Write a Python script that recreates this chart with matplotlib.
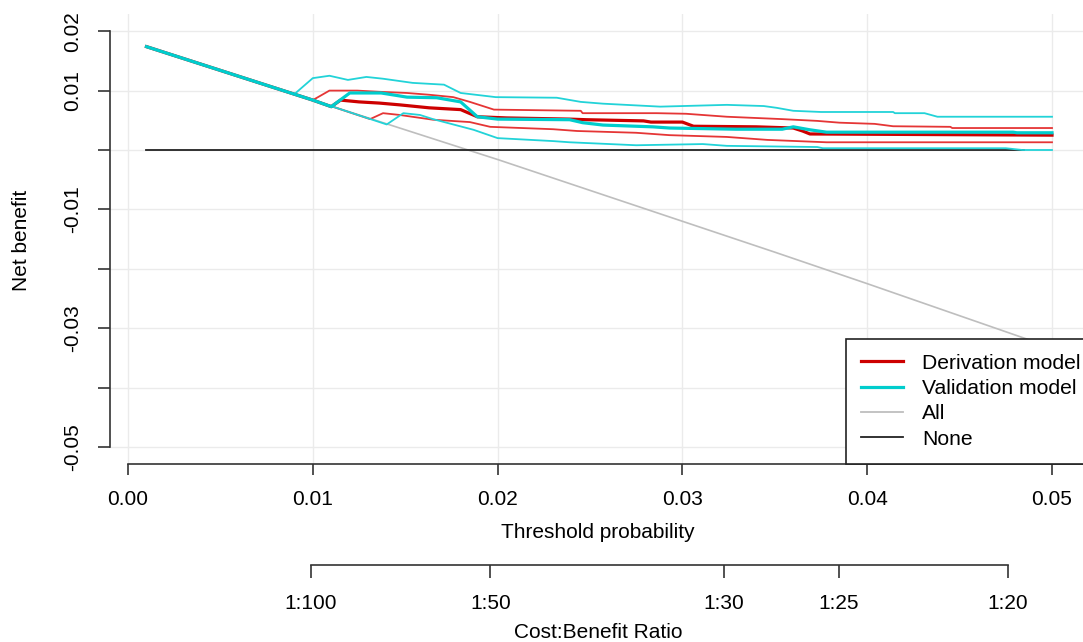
import matplotlib
matplotlib.use("Agg")
import matplotlib.pyplot as plt
from matplotlib.lines import Line2D

plt.rcParams['font.family'] = ['Liberation Sans', 'DejaVu Sans']

# ---------------- data ----------------
all_t = [0.001, 0.005, 0.010, 0.015, 0.020, 0.025, 0.030, 0.035, 0.040, 0.045, 0.050]
all_nb = [0.0174, 0.0134, 0.0084, 0.0034, -0.0016, -0.0068, -0.0120, -0.0172, -0.0225, -0.0279, -0.0333]

none_t = [0.001, 0.0485]
none_nb = [0.0, 0.0]

der_t = [0.001, 0.005, 0.010, 0.0110, 0.0115, 0.0125, 0.0136, 0.0147, 0.0163, 0.0180, 0.0189, 0.0205,
         0.0239, 0.0248, 0.0279, 0.0283, 0.0300, 0.0306, 0.0340, 0.0360, 0.0365, 0.0369, 0.0500]
der_nb = [0.0174, 0.0134, 0.0084, 0.0073, 0.0084, 0.0081, 0.0079, 0.0076, 0.0071, 0.0068, 0.0056, 0.0054,
          0.0052, 0.0051, 0.0049, 0.0047, 0.0047, 0.0040, 0.0039, 0.0037, 0.0032, 0.0027, 0.0025]

der_up_t = [0.001, 0.005, 0.010, 0.0109, 0.0124, 0.0136, 0.0151, 0.0163, 0.0176, 0.0185, 0.0198, 0.0245,
            0.0246, 0.0286, 0.0302, 0.0324, 0.0354, 0.0373, 0.0385, 0.0404, 0.0414, 0.0445, 0.0446, 0.0500]
der_up_nb = [0.0174, 0.0134, 0.0084, 0.0100, 0.0100, 0.0098, 0.0096, 0.0093, 0.0089, 0.0081, 0.0068, 0.0066,
             0.0062, 0.0062, 0.0061, 0.0056, 0.0052, 0.0049, 0.0046, 0.0044, 0.0040, 0.0039, 0.0037, 0.0037]

der_lo_t = [0.001, 0.005, 0.010, 0.0131, 0.0138, 0.0147, 0.0165, 0.0185, 0.0196, 0.0230, 0.0243, 0.0275,
            0.0293, 0.0324, 0.0346, 0.0378, 0.0500]
der_lo_nb = [0.0174, 0.0134, 0.0084, 0.0052, 0.0062, 0.0059, 0.0051, 0.0047, 0.0039, 0.0035, 0.0032, 0.0029,
             0.0025, 0.0022, 0.0017, 0.0013, 0.0013]

val_t = [0.001, 0.005, 0.010, 0.0110, 0.0120, 0.0137, 0.0151, 0.0167, 0.0180, 0.0189, 0.0200, 0.0239,
         0.0246, 0.0257, 0.0284, 0.0293, 0.0329, 0.0354, 0.0360, 0.0369, 0.0378, 0.0479, 0.0481, 0.0500]
val_nb = [0.0174, 0.0134, 0.0084, 0.0073, 0.0096, 0.0096, 0.0089, 0.0088, 0.0081, 0.0056, 0.0052, 0.0051,
          0.0046, 0.0042, 0.0039, 0.0037, 0.0035, 0.0035, 0.0039, 0.0034, 0.0030, 0.0030, 0.0029, 0.0029]

val_up_t = [0.001, 0.005, 0.0090, 0.0100, 0.0109, 0.0119, 0.0129, 0.0138, 0.0154, 0.0171, 0.0180, 0.0199,
            0.0232, 0.0245, 0.0257, 0.0288, 0.0324, 0.0344, 0.0351, 0.0360, 0.0375, 0.0414, 0.0415, 0.0431,
            0.0438, 0.0500]
val_up_nb = [0.0174, 0.0134, 0.0094, 0.0121, 0.0125, 0.0118, 0.0123, 0.0120, 0.0113, 0.0110, 0.0096, 0.0089,
             0.0088, 0.0081, 0.0078, 0.0073, 0.0076, 0.0074, 0.0071, 0.0066, 0.0064, 0.0064, 0.0062, 0.0062,
             0.0056, 0.0056]

val_lo_t = [0.001, 0.005, 0.010, 0.0140, 0.0149, 0.0158, 0.0165, 0.0187, 0.0200, 0.0230, 0.0239, 0.0275,
            0.0311, 0.0324, 0.0373, 0.0376, 0.0475, 0.0484, 0.0500]
val_lo_nb = [0.0174, 0.0134, 0.0084, 0.0043, 0.0062, 0.0059, 0.0052, 0.0034, 0.0020, 0.0015, 0.0013, 0.0008,
             0.0010, 0.0007, 0.0005, 0.0003, 0.0003, 0.0000, 0.0000]

x_ticks = [0.00, 0.01, 0.02, 0.03, 0.04, 0.05]
x_labels = ['0.00', '0.01', '0.02', '0.03', '0.04', '0.05']
y_ticks = [0.02, 0.01, 0.0, -0.01, -0.02, -0.03, -0.04, -0.05]
y_labels = ['0.02', '0.01', '', '-0.01', '', '-0.03', '', '-0.05']
cb_ratios = [100, 50, 30, 25, 20]
cb_labels = ['1:100', '1:50', '1:30', '1:25', '1:20']
legend_labels = ['Derivation model', 'Validation model', 'All', 'None']

# ---------------- styles ----------------
RED = '#CD0000'
RED_T = '#E53535'
CYAN = '#00CDCD'
CYAN_T = '#22D3D8'
GREY = '#BEBEBE'
BLACK = '#222222'
GRID = '#EBEBEB'
FS = 15

W, H = 1083, 642
fig = plt.figure(figsize=(W / 100, H / 100), dpi=100)

def fx(px):
    return px / W

def fy(py):
    return 1 - py / H

ax = fig.add_axes([fx(110), fy(464), fx(973), 450 / H])
ax.set_xlim(-0.000974, 0.051677)
ax.set_ylim(-0.052862, 0.022896)

for t in x_ticks:
    ax.axvline(t, color=GRID, lw=1.0, zorder=0)
for v in y_ticks:
    ax.axhline(v, color=GRID, lw=1.0, zorder=0)

ax.plot(all_t, all_nb, color=GREY, lw=1.2, zorder=2)
ax.plot(none_t, none_nb, color=BLACK, lw=1.3, zorder=3)
ax.plot(der_up_t, der_up_nb, color=RED_T, lw=1.3, zorder=4)
ax.plot(der_lo_t, der_lo_nb, color=RED_T, lw=1.3, zorder=4)
ax.plot(der_t, der_nb, color=RED, lw=2.3, zorder=5)
ax.plot(val_up_t, val_up_nb, color=CYAN_T, lw=1.3, zorder=6)
ax.plot(val_lo_t, val_lo_nb, color=CYAN_T, lw=1.3, zorder=6)
ax.plot(val_t, val_nb, color=CYAN, lw=2.3, zorder=7)

for s in ['top', 'right']:
    ax.spines[s].set_visible(False)
ax.spines['left'].set_bounds(-0.05, 0.02)
ax.spines['bottom'].set_bounds(0.0, 0.06)
for s in ['left', 'bottom']:
    ax.spines[s].set_color('#333333')
    ax.spines[s].set_linewidth(1.2)

ax.set_xticks(x_ticks)
ax.set_xticklabels(x_labels, fontsize=FS)
ax.set_yticks(y_ticks)
ax.set_yticklabels(y_labels, fontsize=FS, rotation=90, va='center')
ax.tick_params(axis='x', length=8, width=1.2, color='#333333', pad=11)
ax.tick_params(axis='y', length=9, width=1.2, color='#333333', pad=11)

# secondary cost:benefit axis
ax2 = fig.add_axes([fx(110), fy(565), fx(973), 0.001])
ax2.set_xlim(ax.get_xlim())
ax2.patch.set_visible(False)
for s in ['top', 'right', 'left']:
    ax2.spines[s].set_visible(False)
cb_pos = [1.0 / (1.0 + r) for r in cb_ratios]
ax2.spines['bottom'].set_bounds(cb_pos[0], cb_pos[-1])
ax2.spines['bottom'].set_color('#333333')
ax2.spines['bottom'].set_linewidth(1.2)
ax2.set_yticks([])
ax2.set_xticks(cb_pos)
ax2.set_xticklabels(cb_labels, fontsize=FS)
ax2.tick_params(axis='x', length=9, width=1.2, color='#333333', pad=12)

fig.text(fx(598), fy(533), 'Threshold probability', fontsize=FS, ha='center', va='center')
fig.text(fx(598), fy(632), 'Cost:Benefit Ratio', fontsize=FS, ha='center', va='center')
fig.text(fx(22), fy(240), 'Net benefit', fontsize=FS, ha='center', va='center', rotation=90)

handles = [Line2D([], [], color=RED, lw=2.3),
           Line2D([], [], color=CYAN, lw=2.3),
           Line2D([], [], color=GREY, lw=1.3),
           Line2D([], [], color=BLACK, lw=1.3)]
leg = fig.legend(handles, legend_labels, loc='lower left',
                 bbox_to_anchor=(fx(846), fy(464)), bbox_transform=fig.transFigure,
                 fontsize=15.2, frameon=True, fancybox=False, framealpha=1,
                 edgecolor='#222222', borderpad=0.72, labelspacing=0.3,
                 handlelength=2.0, handletextpad=0.9, borderaxespad=0)
leg.get_frame().set_linewidth(1.2)
leg.set_zorder(20)

fig.savefig('out.png', dpi=100)
